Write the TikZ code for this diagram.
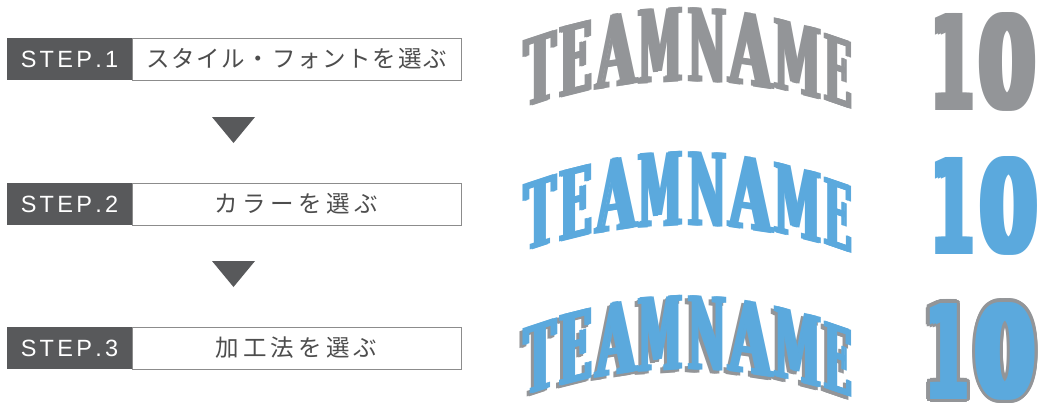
\documentclass[tikz,border=0pt]{standalone}
\usepackage{fontspec}
\setmainfont{Liberation Sans}
\newfontfamily\jp{Noto Sans CJK JP}
\newfontfamily\teamfont{DejaVu Serif}
\newfontfamily\numfont{DejaVu Sans}
\definecolor{dk}{HTML}{58595B}
\definecolor{gr}{HTML}{939598}
\definecolor{bl}{HTML}{5BA9DD}
\definecolor{tx}{HTML}{4D4D4D}
\definecolor{bd}{HTML}{8C8C8C}
\makeatletter
\def\lsp#1#2{#2\def\lsp@k{#1}\lsp@a}
\def\lsp@a#1{\ifx#1\relax\else\kern\lsp@k\relax#1\expandafter\lsp@a\fi}
\makeatother
% heavier glyph: overlay of shifted copies
\newcommand\thk[1]{\rlap{#1}\kern0.05em\rlap{#1}\kern0.05em#1}
\newcommand\archletter[7]{%
 \pgfmathsetmacro\adx{(#1-686)/10}%
 \pgfmathsetmacro\ayt{8+0.128*\adx*\adx}%
 \pgfmathsetmacro\ayb{82+0.098*\adx*\adx}%
 \pgfmathsetmacro\ahh{\ayb-\ayt}%
 \pgfmathsetmacro\asl{-0.0226*\adx}%
 \pgfmathsetmacro\ayc{(\ayt+\ayb)/2+#4}%
 \pgfmathsetmacro\axc{#1+#7}%
 \node[archglyph,yslant=\asl,text=#5] (#6) at (\axc,\ayc) {\resizebox{#2pt}{\ahh pt}{\teamfont\bfseries\thk{#3}}};%
}
\newcommand\teamrow[4]{%
 \archletter{540}{36}{T}{#1}{#2}{#31}{#4}%
 \archletter{575.5}{37}{E}{#1}{#2}{#32}{#4}%
 \archletter{616}{44}{A}{#1}{#2}{#33}{#4}%
 \archletter{660}{48}{M}{#1}{#2}{#34}{#4}%
 \archletter{707}{42}{N}{#1}{#2}{#35}{#4}%
 \archletter{750.5}{47}{A}{#1}{#2}{#36}{#4}%
 \archletter{797.5}{51}{M}{#1}{#2}{#37}{#4}%
 \archletter{838}{32}{E}{#1}{#2}{#38}{#4}%
}
\newcommand\digit[7]{%
 \node[archglyph,text=#6] (#7) at (#1,#2) {\resizebox{#3pt}{#4pt}{\numfont\bfseries\thk{#5}}};%
}
\newcommand\outdigit[6]{%
 \foreach \a [count=\i] in {0,22.5,...,337.5}{%
  \node[archglyph,text=gr,xshift={3.2pt*cos(\a)},yshift={3.2pt*sin(\a)}] (#6o\i) at (#1,#2) {\resizebox{#3pt}{#4pt}{\numfont\bfseries\thk{#5}}};}%
 \node[archglyph,text=bl] (#6) at (#1,#2) {\resizebox{#3pt}{#4pt}{\numfont\bfseries\thk{#5}}};%
}
\begin{document}
\begin{tikzpicture}[x=1pt,y=-1pt,
 stepbox/.style={fill=dk,text=white,inner sep=0,minimum width=125pt,minimum height=42pt,font=\fontsize{23.5}{23.5}\selectfont},
 labelbox/.style={draw=bd,line width=1pt,fill=white,text=tx,inner sep=0,minimum width=329pt,minimum height=42pt,font=\jp\fontsize{23.5}{23.5}\selectfont},
 archglyph/.style={inner sep=0,outer sep=0},
]
\useasboundingbox[fill=white] (0,0) rectangle (1040,407);
% steps
\node[labelbox] (lab1) at (296.5,59) {\lsp{1.7pt}スタイル・フォントを選ぶ\relax};
\node[stepbox] (step1) at (69.5,59) {\lsp{3.3pt}STEP.1\relax};
\node[labelbox] (lab2) at (296.5,204) {\lsp{4.6pt}カラーを選ぶ\relax};
\node[stepbox] (step2) at (69.5,204) {\lsp{3.3pt}STEP.2\relax};
\node[labelbox] (lab3) at (296.5,348) {\lsp{4.2pt}加工法を選ぶ\relax};
\node[stepbox] (step3) at (69.5,348) {\lsp{3.3pt}STEP.3\relax};
% triangles
\fill[dk] (212,117) -- (255,117) -- (233.5,143) -- cycle;
\fill[dk] (212,261) -- (255,261) -- (233.5,287) -- cycle;
% TEAMNAME rows
\teamrow{0}{gr}{g}{0}
\teamrow{144}{bl}{b}{0}
\teamrow{291}{gr}{s}{-3}
\teamrow{288}{bl}{c}{0}
% numbers
\digit{952.5}{62}{49}{97}{1}{gr}{ga}
\digit{1007.5}{62}{64}{97}{0}{gr}{gb}
\digit{952.5}{206}{49}{97}{1}{bl}{ba}
\digit{1009}{206}{65}{97}{0}{bl}{bb}
\outdigit{947}{351}{48}{96}{1}{ca}
\outdigit{1005.5}{351}{67}{96}{0}{cb}
\end{tikzpicture}
\end{document}
